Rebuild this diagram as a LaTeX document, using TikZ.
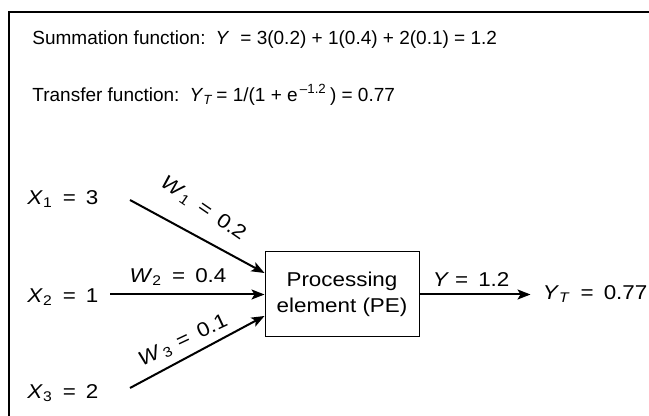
\documentclass[tikz,border=0pt]{standalone}
\usepackage{fontspec}
\setmainfont{Liberation Sans}
\newfontfamily\widesf{Liberation Sans}[FakeStretch=1.12]
\usetikzlibrary{arrows.meta,positioning,calc}
\tikzset{
  txt/.style={inner sep=0pt,anchor=west,font=\fontsize{9.5}{12}\selectfont},
  lowtxt/.style={txt,font=\widesf\fontsize{10}{12}\selectfont},
  pebox/.style={draw,line width=0.5pt,minimum width=77pt,minimum height=42.5pt,align=center,inner sep=0pt,font=\widesf\fontsize{10}{13}\selectfont},
  arr/.style={-{Stealth[length=6.5pt,width=5pt,inset=1.5pt]},line width=1pt},
  wlbl/.style={inner sep=0pt,font=\widesf\fontsize{10}{12}\selectfont}
}
\newcommand{\vsub}[2]{\textit{#1}\textsubscript{\textit{#2}}}

\begin{document}
\begin{tikzpicture}[x=0.5pt,y=-0.5pt]
  \useasboundingbox (0,0) rectangle (649,416);
  \clip (0,0) rectangle (649,416);
  \draw[line width=0.7pt] (9,12) rectangle (700,460);

  % formulas
  \node[txt] (sumf) at (32,40) {Summation function:\hspace{5pt}\textit{Y}\hspace{5.5pt}= 3(0.2) + 1(0.4) + 2(0.1) = 1.2};
  \node[txt] (trf) at (32,95) {Transfer function:\hspace{5pt}\vsub{Y}{T}\,= 1/(1 + e\textsuperscript{\,–1.2}\,) = 0.77};

  % inputs
  \node[lowtxt] (x1) at (27,199) {\textit{X}\textsubscript{1}\enspace=\enspace3};
  \node[lowtxt] (x2) at (27,297) {\textit{X}\textsubscript{2}\enspace=\enspace1};
  \node[lowtxt] (x3) at (27,393) {\textit{X}\textsubscript{3}\enspace=\enspace2};
  \coordinate (s1) at (130,200);
  \coordinate (s2) at (110,294.5);
  \coordinate (s3) at (130,388);

  % processing element and output
  \node[pebox] (pe) at (342,294.5) {Processing\\element (PE)};
  \node[lowtxt, right=61.5pt of pe] (yt) {\vsub{Y}{T}\enspace=\enspace0.77};

  \draw[arr] (s1) -- ([yshift=10.75pt]pe.west)
    node[wlbl, sloped, above=9pt, rotate=-6, pos=0.44] {\textit{W}\kern1pt\textsubscript{1}\enspace=\enspace0.2};
  \draw[arr] (s2) -- (pe.west)
    node[wlbl, above=4pt, pos=0.44] {\textit{W}\textsubscript{2}\enspace=\enspace0.4};
  \draw[arr] (s3) -- ([yshift=-10.75pt]pe.west)
    node[wlbl, sloped, above=3.5pt, rotate=-3, pos=0.45] {\textit{W}\kern1pt\textsubscript{3}\hspace{3.5pt}=\enspace0.1};
  \draw[arr, shorten >=6pt] (pe.east) -- (yt.west)
    node[wlbl, above=3.5pt, pos=0.42] {\textit{Y}\hspace{3pt}=\enspace1.2};
\end{tikzpicture}
\end{document}
